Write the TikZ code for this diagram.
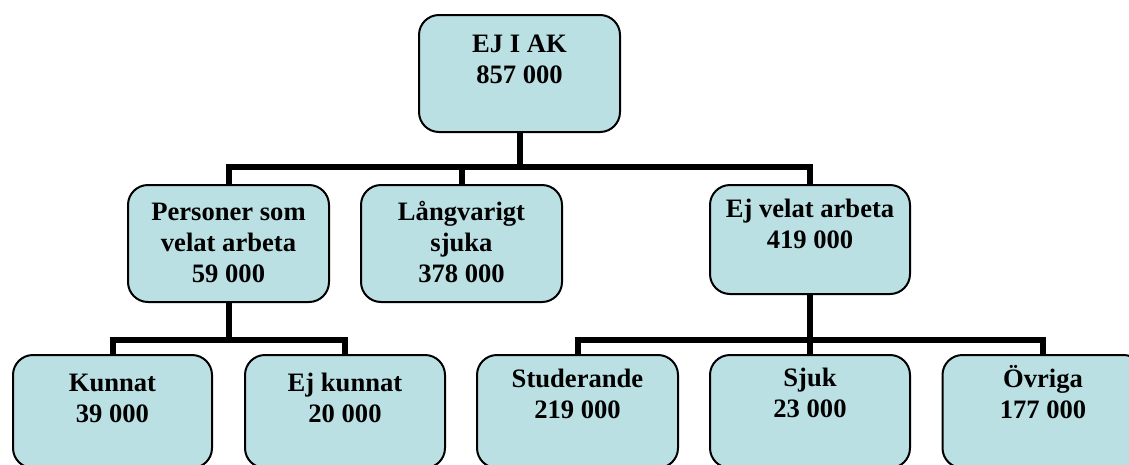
\documentclass[tikz,border=0pt]{standalone}
\usepackage{fontspec}
\setmainfont{Liberation Serif}
\definecolor{boxfill}{RGB}{187,224,227}
\newcommand{\boxtxt}[3]{\parbox[c][#1][t]{190pt}{\centering\rule{0pt}{#2}#3}}
\tikzset{
  box/.style={draw=black, fill=boxfill, line width=2pt, rounded corners=20pt,
    inner sep=0pt, font=\fontsize{26.6}{31}\selectfont\bfseries},
  conn/.style={draw=black, line width=6pt, line join=miter}
}
\begin{document}
\begin{tikzpicture}[x=1pt,y=-1pt]
\useasboundingbox (0,0) rectangle (1129,464);
\clip (0,0) rectangle (1129,464);
\fill[white] (0,0) rectangle (1129,464);
\coordinate (b1) at (0,167);
\coordinate (b2) at (0,340);
% nodes
\node[box, minimum width=201pt, minimum height=117pt] (top) at (519.5,73.5) {\boxtxt{117pt}{37pt}{EJ I AK\\857 000}};
\node[box, minimum width=201pt, minimum height=117pt] (pers) at (228.5,243.5) {\boxtxt{117pt}{35pt}{Personer som\\velat arbeta\\59 000}};
\node[box, minimum width=201pt, minimum height=117pt] (lang) at (461.5,243.5) {\boxtxt{117pt}{35pt}{Långvarigt\\sjuka\\378 000}};
\node[box, minimum width=200pt, minimum height=109pt] (ejv) at (810,239.5) {\boxtxt{109pt}{32pt}{Ej velat arbeta\\419 000}};
\node[box, minimum width=199pt, minimum height=113pt] (kun) at (112.5,411.5) {\boxtxt{113pt}{36pt}{Kunnat\\39 000}};
\node[box, minimum width=200pt, minimum height=113pt] (ejk) at (345,411.5) {\boxtxt{113pt}{36pt}{Ej kunnat\\20 000}};
\node[box, minimum width=201pt, minimum height=113pt] (stud) at (577.5,411.5) {\boxtxt{113pt}{32pt}{Studerande\\219 000}};
\node[box, minimum width=200pt, minimum height=113pt] (sjuk) at (810,411.5) {\boxtxt{113pt}{31pt}{Sjuk\\23 000}};
\node[box, minimum width=201pt, minimum height=113pt] (ovr) at (1043,411.5) {\boxtxt{113pt}{32pt}{Övriga\\177 000}};
% connectors
\draw[conn] (top.south) -- (top.south |- b1);
\draw[conn] (pers.north) |- (ejv.north |- b1) -- (ejv.north);
\draw[conn] (lang.north) -- (lang.north |- b1);
\draw[conn] (pers.south) -- (pers.south |- b2);
\draw[conn] (kun.north) |- (ejk.north |- b2) -- (ejk.north);
\draw[conn] (ejv.south) -- (ejv.south |- b2);
\draw[conn] (stud.north) |- (ovr.north |- b2) -- (ovr.north);
\draw[conn] (sjuk.north) -- (sjuk.north |- b2);
\end{tikzpicture}
\end{document}
